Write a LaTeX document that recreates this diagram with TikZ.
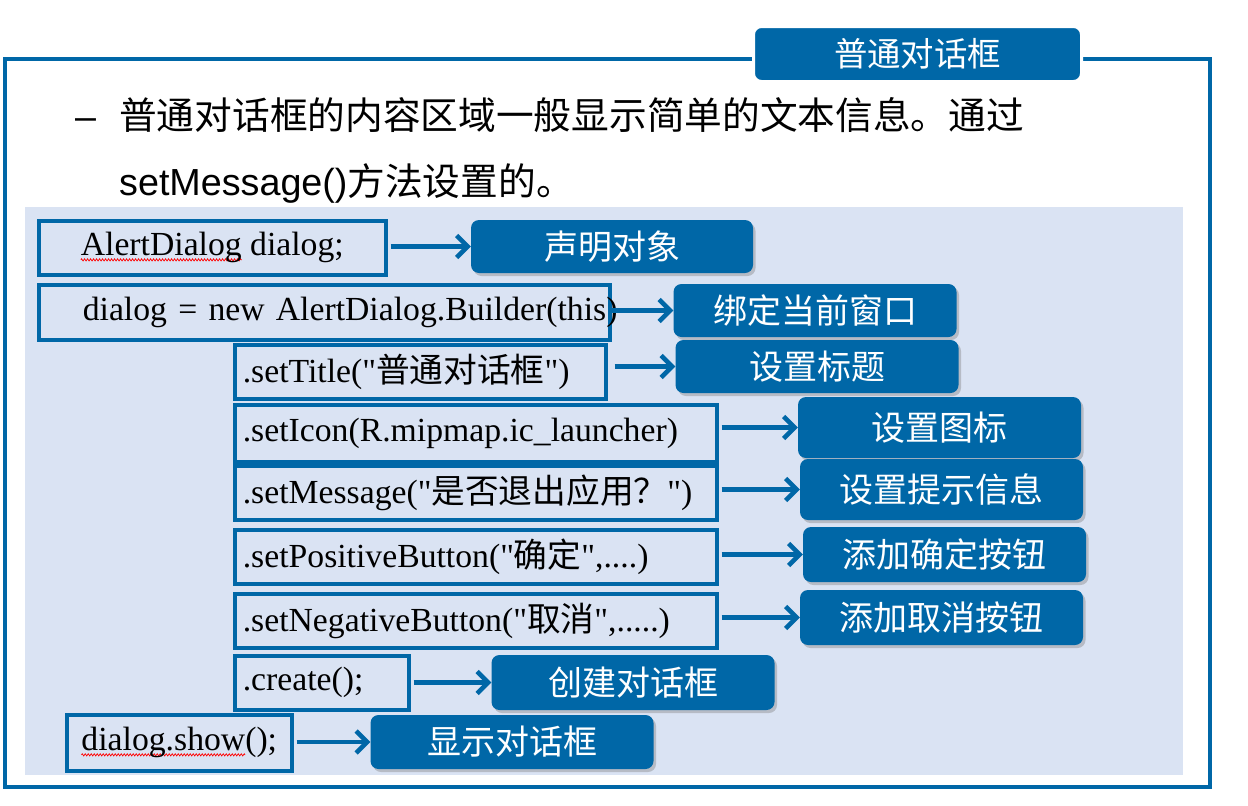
\documentclass[tikz,border=0pt]{standalone}
\usepackage{fontspec}
\usetikzlibrary{arrows.meta,shadows,decorations.pathmorphing}
\newfontfamily\cjk{Noto Sans CJK SC}
\newfontfamily\codefont{Liberation Serif}
\newfontfamily\bodyfont{Liberation Sans}
\definecolor{frameblue}{RGB}{0,103,167}
\definecolor{panelblue}{RGB}{218,227,243}
\newsavebox\spellbox
\newcommand\spellmark[1]{\sbox\spellbox{#1}\rlap{\tikz[overlay, x=1pt, y=1pt]\draw[red, line width=0.7pt, decorate, decoration={zigzag, amplitude=1.1pt, segment length=3pt}] (0,-4) -- (\the\wd\spellbox,-4);}\usebox\spellbox}
\begin{document}
\begin{tikzpicture}[x=1pt, y=-1pt,
    codebox/.style={draw=frameblue, line width=3.6pt, anchor=north west, inner xsep=8pt, inner ysep=0pt, minimum height=54pt, font=\codefont\fontsize{33.7}{40}\selectfont},
    codeleft/.style={text width=#1, align=left},
    notebox/.style={fill=frameblue, rounded corners=8pt, minimum width=283pt, minimum height=54pt, text=white, font=\cjk\fontsize{34}{40}\selectfont, drop shadow={shadow xshift=2.5pt, shadow yshift=-3pt, opacity=0.4}},
    linkarrow/.style={draw=frameblue, line width=4.5pt, -{Straight Barb[length=11pt, width=22pt]}, shorten <=3pt}]
    \useasboundingbox (0,0) rectangle (1248,806);

    % frame
    \fill[panelblue] (25,207) rectangle (1183,775);
    \draw[frameblue, line width=4pt] (5,59) rectangle (1210,787);
    \node[fill=frameblue, draw=white, line width=3pt, rounded corners=8pt, minimum width=328pt, minimum height=55pt, text=white, font=\cjk\fontsize{33.4}{40}\selectfont] (head) at (917.5,54) {普通对话框};

    % text
    \node[anchor=base west, inner sep=0pt, font=\bodyfont\fontsize{37.7}{45}\selectfont] (dash) at (75,129) {–};
    \node[anchor=base west, inner sep=0pt, font=\cjk\fontsize{37.7}{45}\selectfont] (line1) at (119,129) {普通对话框的内容区域一般显示简单的文本信息。通过};
    \node[anchor=base west, inner sep=0pt, font=\bodyfont\fontsize{37.7}{45}\selectfont] (line2) at (119,195) {setMessage(){\cjk 方法设置的。}};

    % statements
    \node[codebox, minimum width=347pt] (s1) at (37,219) {\spellmark{AlertDialog} dialog;};
    \node[codebox, inner xsep=44pt, codeleft=483pt, minimum height=55pt] (s2) at (37,283) {\mbox{dialog = new AlertDialog.Builder(this)}};
    \node[codebox, codeleft=355pt] (s3) at (233,343) {.setTitle("{\cjk 普通对话框}")};
    \node[codebox, codeleft=466pt, minimum height=57pt] (s4) at (233,403) {.setIcon(R.mipmap.ic\_launcher)};
    \node[codebox, codeleft=466pt] (s5) at (233,464) {.setMessage("{\cjk 是否退出应用？}")};
    \node[codebox, codeleft=466pt] (s6) at (233,528) {.setPositiveButton("{\cjk 确定}",....)};
    \node[codebox, codeleft=466pt] (s7) at (233,592) {.setNegativeButton("{\cjk 取消}",.....)};
    \node[codebox, codeleft=158pt] (s8) at (233,654) {.create();};
    \node[codebox, minimum width=225pt, minimum height=56pt] (s9) at (65,713) {\spellmark{dialog.show}();};

    % notes
    \node[notebox, minimum width=282pt, minimum height=53pt] (n1) at (612,246.5) {声明对象};
    \node[notebox, minimum height=53pt] (n2) at (815,310.5) {绑定当前窗口};
    \node[notebox, minimum height=53pt] (n3) at (817,366.5) {设置标题};
    \node[notebox, minimum height=61pt] (n4) at (939.5,427.5) {设置图标};
    \node[notebox, minimum height=61pt] (n5) at (941.5,489.5) {设置提示信息};
    \node[notebox, minimum height=55pt] (n6) at (944.5,554.5) {添加确定按钮};
    \node[notebox, minimum height=55pt] (n7) at (941.5,617.5) {添加取消按钮};
    \node[notebox, minimum height=55pt] (n8) at (633,682.5) {创建对话框};
    \node[notebox] (n9) at (512,742) {显示对话框};

    % arrows
    \draw[linkarrow] (s1.east |- n1.west) -- (n1.west);
    \draw[linkarrow, shorten <=-3pt] (s2.east |- n2.west) -- (n2.west);
    \draw[linkarrow, shorten <=7pt] (s3.east |- n3.west) -- (n3.west);
    \draw[linkarrow] (s4.east |- n4.west) -- (n4.west);
    \draw[linkarrow] (s5.east |- n5.west) -- (n5.west);
    \draw[linkarrow] (s6.east |- n6.west) -- (n6.west);
    \draw[linkarrow] (s7.east |- n7.west) -- (n7.west);
    \draw[linkarrow] (s8.east |- n8.west) -- (n8.west);
    \draw[linkarrow] (s9.east |- n9.west) -- (n9.west);
\end{tikzpicture}
\end{document}
